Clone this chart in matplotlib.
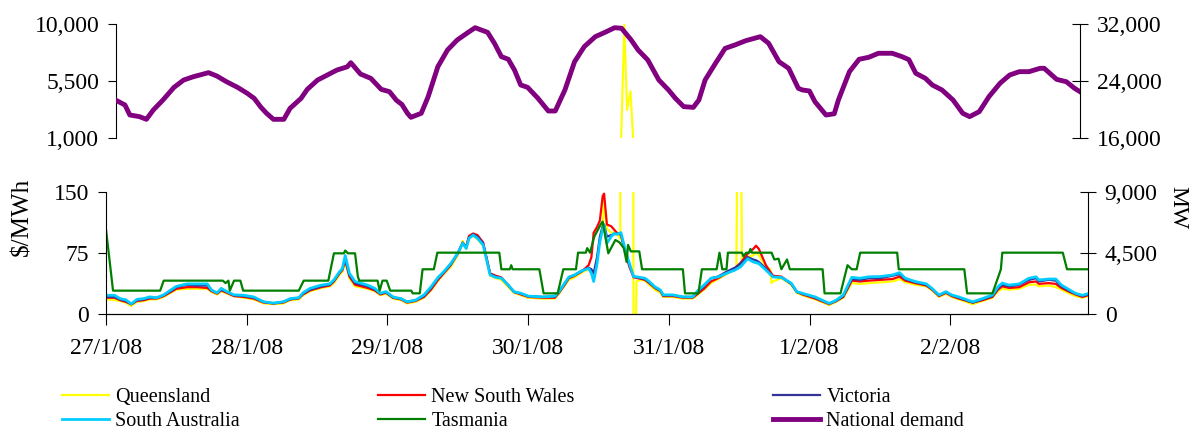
import matplotlib
matplotlib.use('Agg')
import matplotlib.pyplot as plt
from matplotlib.ticker import FuncFormatter

plt.rcParams['font.family'] = ['Liberation Serif', 'DejaVu Serif']

# days since 27/1/08 00:00 (half-hourly data, 336 intervals)
day_ticks = [0, 1, 2, 3, 4, 5, 6]
day_labels = ['27/1/08', '28/1/08', '29/1/08', '30/1/08', '31/1/08', '1/2/08', '2/2/08']
t_end = 335 / 48

# national demand (MW), right axis of the top panel
dem_t = [0.00, 0.065, 0.10, 0.17, 0.22, 0.27, 0.34, 0.42, 0.49, 0.56, 0.67, 0.73, 0.80, 0.88, 0.95,
         1.00, 1.05, 1.09, 1.14, 1.215, 1.26, 1.34, 1.385, 1.46, 1.53, 1.60, 1.675, 1.70, 1.77, 1.845,
         1.92, 1.98, 2.03, 2.07, 2.11, 2.135, 2.21, 2.26, 2.33, 2.40, 2.47, 2.55, 2.60, 2.69, 2.74,
         2.79, 2.84, 2.885, 2.93, 2.98, 3.055, 3.13, 3.18, 3.25, 3.32, 3.39, 3.47, 3.54, 3.61, 3.66,
         3.73, 3.78, 3.85, 3.93, 4.00, 4.05, 4.11, 4.18, 4.22, 4.265, 4.34, 4.41, 4.48, 4.56, 4.665,
         4.725, 4.80, 4.87, 4.94, 4.97, 5.02, 5.06, 5.14, 5.20, 5.23, 5.31, 5.38, 5.45, 5.52, 5.62,
         5.69, 5.74, 5.79, 5.86, 5.91, 5.98, 6.06, 6.13, 6.18, 6.25, 6.32, 6.40, 6.47, 6.54, 6.61,
         6.69, 6.72, 6.81, 6.88, 6.94, 6.979]
dem_v = [21300, 20630, 19230, 19000, 18620, 19930, 21335, 23110, 24140, 24600, 25170, 24700, 23900, 23110, 22270,
         21570, 20300, 19470, 18620, 18620, 20160, 21570, 22830, 24140, 24840, 25540, 26000, 26570, 24980, 24370,
         22830, 22500, 21300, 20700, 19470, 18900, 19470, 21800, 26000, 28350, 29750, 30830, 31480, 30830, 29290,
         27420, 27050, 25540, 23440, 23110, 21570, 19790, 19790, 22740, 26710, 28820, 30220, 30830, 31480, 31400,
         29750, 28350, 26950, 24140, 22740, 21570, 20400, 20300, 21335, 24140, 26480, 28580, 29050, 29660, 30220,
         29290, 26710, 25780, 22970, 22740, 22600, 21100, 19230, 19400, 21335, 25310, 27050, 27330, 27890, 27890,
         27420, 27000, 25090, 24370, 23440, 22740, 21335, 19470, 19000, 19700, 21800, 23680, 24840, 25310, 25310,
         25780, 25780, 24230, 23900, 22970, 22500]

# regional prices ($/MWh) for NSW, VIC, SA on a shared time grid
price_t = [0.00, 0.06, 0.10, 0.14, 0.18, 0.22, 0.27, 0.31, 0.36, 0.41, 0.46, 0.50, 0.575, 0.65, 0.72,
           0.75, 0.79, 0.82, 0.86, 0.91, 0.98, 1.05, 1.12, 1.19, 1.26, 1.31, 1.37, 1.40, 1.45, 1.53,
           1.59, 1.62, 1.66, 1.68, 1.70, 1.73, 1.77, 1.86, 1.91, 1.95, 1.99, 2.04, 2.095, 2.14, 2.20,
           2.26, 2.31, 2.36, 2.40, 2.45, 2.50, 2.535, 2.56, 2.58, 2.61, 2.64, 2.68, 2.70, 2.73, 2.77,
           2.81, 2.86, 2.90, 2.95, 3.00, 3.10, 3.19, 3.22, 3.26, 3.29, 3.33, 3.38, 3.43, 3.45, 3.466,
           3.49, 3.51, 3.53, 3.54, 3.56, 3.59, 3.61, 3.63, 3.66, 3.69, 3.72, 3.75, 3.78, 3.83, 3.86,
           3.90, 3.94, 3.96, 4.03, 4.10, 4.17, 4.20, 4.25, 4.30, 4.35, 4.41, 4.47, 4.51, 4.56, 4.60,
           4.62, 4.64, 4.69, 4.74, 4.80, 4.87, 4.91, 4.95, 5.04, 5.14, 5.19, 5.24, 5.28, 5.30, 5.36,
           5.42, 5.50, 5.59, 5.64, 5.68, 5.75, 5.83, 5.87, 5.92, 5.97, 6.01, 6.06, 6.16, 6.23, 6.30,
           6.34, 6.37, 6.42, 6.49, 6.56, 6.61, 6.63, 6.70, 6.75, 6.79, 6.85, 6.89, 6.94, 6.979]
sa_p = [23, 23, 19, 17.5, 12.5, 18, 19, 21, 20, 23.5, 29.5, 34, 37, 37, 37,
        29.5, 26, 31.5, 27.5, 23.5, 23, 21, 15, 13.5, 15, 19, 20, 26, 31.5, 35.5,
        37, 42, 52, 56, 72, 50, 40, 35.5, 31.5, 25.5, 27.5, 21, 19, 15, 17,
        23.5, 33.5, 45, 52, 62, 74.5, 87, 80.5, 93, 97, 93, 85, 70, 48, 45,
        44, 35.5, 27.5, 25.5, 22, 21, 22, 27.5, 38, 45.5, 48, 53, 56, 50, 40,
        62, 89, 105, 109, 87, 95, 99, 98, 100, 79, 62, 46, 45.5, 44, 40,
        33.5, 29.5, 23.5, 23.5, 21, 21, 27.5, 35.5, 44, 45.5, 50, 54, 58, 68, 64,
        63, 62, 54, 45.5, 45, 38, 27.5, 25.4, 21, 13, 17, 23.4, 38, 45, 44,
        45.7, 46, 48, 50.8, 44, 40, 37, 31.5, 23.4, 27.5, 23.4, 21, 15, 19, 23.4,
        33.6, 38, 35.6, 37, 44, 45.7, 41.8, 43, 43, 35.6, 29.5, 25.4, 23, 25]
vic_p = [21, 21, 18, 16, 12, 17, 18, 20, 20, 23, 28, 33, 36, 35, 35,
         29, 26, 30, 27, 23, 22, 20, 15, 13, 15, 18, 20, 25, 30, 34,
         36, 41, 51, 55, 68, 48, 38, 34, 30, 25, 27, 20, 19, 15, 17,
         22, 32, 44, 51, 61, 75, 88, 82, 94, 98, 95, 87, 72, 49, 46,
         44, 35, 27, 25, 22, 21, 21, 27, 37, 45, 48, 53, 57, 55, 50,
         70, 95, 108, 110, 95, 97, 98, 99, 98, 77, 60, 46, 45, 43, 39,
         33, 29, 23, 23, 21, 21, 26, 34, 44, 46, 52, 57, 62, 70, 67,
         66, 64, 56, 46, 45, 37, 27, 25, 20, 13, 16, 22, 36, 43, 42,
         44, 44, 47, 49, 43, 39, 36, 31, 23, 27, 23, 20, 14, 18, 22,
         32, 36, 34, 36, 42, 44, 40, 42, 41, 34, 28, 25, 22, 24]
nsw_p = [20, 20, 17, 15, 12, 16, 17, 19, 19, 22, 27, 31, 33, 33, 32,
         28, 25, 29, 26, 22, 21, 19, 14, 13, 14, 18, 19, 24, 29, 33,
         35, 40, 50, 54, 66, 46, 36, 32, 29, 24, 26, 20, 18, 14, 16,
         21, 30, 42, 50, 60, 74, 87, 83, 96, 99, 97, 88, 73, 50, 47,
         45, 35, 27, 24, 21, 20, 20, 26, 36, 44, 47, 52, 60, 70, 100,
         107, 115, 145, 148, 110, 108, 104, 100, 97, 76, 58, 45, 44, 42, 38,
         32, 28, 22, 22, 20, 20, 24, 31, 40, 44, 50, 56, 63, 74, 80,
         84, 80, 60, 47, 46, 37, 27, 24, 19, 12, 16, 21, 34, 41, 40,
         41, 42, 43, 46, 41, 38, 35, 30, 22, 26, 22, 19, 14, 17, 21,
         30, 34, 32, 33, 39, 40, 37, 38, 37, 32, 27, 24, 21, 23]

# Queensland has its own grid because of the spikes on 30/1 and 31/1
qld_t = [0.00, 0.06, 0.10, 0.14, 0.18, 0.22, 0.27, 0.31, 0.36, 0.41, 0.46, 0.50, 0.575, 0.65, 0.72,
         0.75, 0.79, 0.82, 0.86, 0.91, 0.98, 1.05, 1.12, 1.19, 1.26, 1.31, 1.37, 1.40, 1.45, 1.53,
         1.59, 1.62, 1.66, 1.68, 1.70, 1.73, 1.77, 1.86, 1.91, 1.95, 1.99, 2.04, 2.095, 2.14, 2.20,
         2.26, 2.31, 2.36, 2.40, 2.45, 2.50, 2.535, 2.56, 2.58, 2.61, 2.64, 2.68, 2.70, 2.73, 2.77,
         2.81, 2.86, 2.90, 2.95, 3.00, 3.10, 3.19, 3.22, 3.26, 3.29, 3.33, 3.38, 3.43, 3.45, 3.466,
         3.49, 3.51, 3.53, 3.54, 3.56, 3.59, 3.61, 3.63, 3.645, 3.655, 3.68, 3.70, 3.725, 3.75, 3.77,
         3.80, 3.83, 3.86, 3.90, 3.94, 3.96, 4.03, 4.10, 4.17, 4.20, 4.25, 4.30, 4.35, 4.41, 4.465,
         4.48, 4.50, 4.52, 4.56, 4.60, 4.62, 4.64, 4.69, 4.72, 4.73, 4.74, 4.80, 4.87, 4.91, 4.95,
         5.04, 5.14, 5.19, 5.24, 5.28, 5.30, 5.36, 5.42, 5.50, 5.59, 5.64, 5.68, 5.75, 5.83, 5.87,
         5.92, 5.97, 6.01, 6.06, 6.16, 6.23, 6.30, 6.34, 6.37, 6.42, 6.49, 6.56, 6.61, 6.63, 6.70,
         6.75, 6.79, 6.85, 6.89, 6.94, 6.979]
qld_p = [18, 17, 16, 14, 10, 15, 16, 18, 18, 21, 26, 30, 31, 31, 31,
         27, 24, 28, 25, 22, 20, 18, 13, 12, 13, 17, 18, 23, 28, 32,
         34, 38, 48, 52, 64, 44, 34, 31, 28, 23, 25, 19, 17, 13, 15,
         20, 29, 41, 49, 58, 72, 90, 80, 94, 96, 92, 84, 70, 47, 44,
         42, 33, 26, 23, 20, 19, 19, 25, 35, 42, 45, 51, 55, 52, 45,
         68, 92, 110, 140, 105, 100, 100, 98, 95, 92, 10000, 3200, 4700, -250, 40,
         42, 41, 36, 30, 26, 21, 21, 19, 19, 23, 30, 38, 43, 49, 54,
         56, 500, 60, 70, 72, 76, 72, 58, 55, 38, 40, 44, 36, 26, 23,
         18, 11, 15, 20, 32, 38, 37, 38, 39, 40, 43, 39, 36, 34, 29,
         21, 25, 21, 18, 12, 16, 20, 28, 31, 30, 31, 36, 36, 34, 35,
         33, 30, 25, 22, 20, 22]

# Tasmania (step-like price)
tas_t = [0.00, 0.05, 0.385, 0.41, 0.83, 0.85, 0.87, 0.88, 0.91, 0.955, 0.975, 1.37, 1.405, 1.58, 1.62,
         1.69, 1.70, 1.72, 1.77, 1.79, 1.80, 1.93, 1.945, 1.965, 1.995, 2.02, 2.17, 2.18, 2.23, 2.25,
         2.33, 2.355, 2.795, 2.81, 2.87, 2.88, 2.89, 3.08, 3.11, 3.21, 3.25, 3.34, 3.355, 3.41, 3.42,
         3.44, 3.47, 3.52, 3.53, 3.57, 3.62, 3.65, 3.68, 3.70, 3.71, 3.73, 3.79, 3.81, 4.10, 4.115,
         4.21, 4.235, 4.34, 4.36, 4.38, 4.41, 4.42, 4.52, 4.53, 4.55, 4.57, 4.58, 4.59, 4.73, 4.75,
         4.78, 4.80, 4.84, 4.86, 5.093, 5.107, 5.22, 5.27, 5.30, 5.335, 5.36, 5.623, 5.634, 6.10, 6.12,
         6.30, 6.34, 6.36, 6.37, 6.80, 6.83, 6.979]
tas_p = [104, 28.7, 28.7, 41, 41, 38, 41, 28.7, 41, 41, 28.7, 28.7, 41, 41, 74.6,
         74.6, 78, 74.6, 74.6, 46, 41, 41, 28.7, 41, 41, 28.7, 28.7, 25.4, 25.4, 55,
         55, 75.4, 75.4, 55, 55, 60, 55, 55, 25.4, 25.4, 55, 55, 75.4, 75.4, 81,
         75.4, 95, 111.5, 113.6, 74.6, 91, 88, 81, 64, 85, 77, 77, 55, 55, 25.4,
         25.4, 55, 55, 75.4, 55, 55, 75.4, 75.4, 71, 75.4, 75.4, 80, 75.4, 75.4, 67,
         68, 55, 67, 55, 55, 25.4, 25.4, 60, 55, 55, 75.4, 75.4, 55, 55, 25.4,
         25.4, 45, 55, 75.4, 75.4, 55, 55]

c_qld = '#FFFF00'
c_nsw = '#FF0000'
c_vic = '#333399'
c_sa = '#00CCFF'
c_tas = '#008000'
c_dem = '#800080'

comma = FuncFormatter(lambda v, p: f'{v:,.0f}')

fig = plt.figure(figsize=(11.93, 4.32), dpi=100)

# top panel: high prices and demand
ax1 = fig.add_axes([116 / 1193, 1 - 138 / 432, 964 / 1193, 114 / 432])
ax1.plot(qld_t, qld_p, color=c_qld, lw=1.5)
ax1.set_xlim(0, t_end)
ax1.set_ylim(1000, 10000)
ax1.set_yticks([1000, 5500, 10000])
ax1.yaxis.set_major_formatter(comma)
ax1.set_xticks([])
for s in ['top', 'bottom', 'right']:
    ax1.spines[s].set_visible(False)
ax1.tick_params(axis='y', direction='out', length=6, labelsize=17, pad=6)

ax1r = ax1.twinx()
ax1r.plot(dem_t, dem_v, color=c_dem, lw=3.5)
ax1r.set_xlim(0, t_end)
ax1r.set_ylim(16000, 32000)
ax1r.set_yticks([16000, 24000, 32000])
ax1r.yaxis.set_major_formatter(comma)
for s in ['top', 'bottom', 'left']:
    ax1r.spines[s].set_visible(False)
ax1r.tick_params(axis='y', direction='inout', length=12, labelsize=17, pad=6)

# bottom panel: normal prices
ax2 = fig.add_axes([106 / 1193, 1 - 314 / 432, 982 / 1193, 122 / 432])
l_qld, = ax2.plot(qld_t, qld_p, color=c_qld, lw=1.6, label='Queensland')
l_nsw, = ax2.plot(price_t, nsw_p, color=c_nsw, lw=1.6, label='New South Wales')
l_vic, = ax2.plot(price_t, vic_p, color=c_vic, lw=1.6, label='Victoria')
l_sa, = ax2.plot(price_t, sa_p, color=c_sa, lw=2.0, label='South Australia')
l_tas, = ax2.plot(tas_t, tas_p, color=c_tas, lw=1.6, label='Tasmania')
ax2.set_xlim(0, t_end)
ax2.set_ylim(0, 150)
ax2.set_yticks([0, 75, 150])
ax2.set_xticks(day_ticks)
ax2.set_xticklabels(day_labels)
ax2.spines['top'].set_visible(False)
ax2.spines['right'].set_visible(False)
ax2.tick_params(axis='y', direction='out', length=6, labelsize=17, pad=6)
ax2.tick_params(axis='x', direction='out', length=8, labelsize=17, pad=9)

ax2r = ax2.twinx()
ax2r.set_ylim(0, 9000)
ax2r.set_yticks([0, 4500, 9000])
ax2r.yaxis.set_major_formatter(comma)
ax2r.spines['top'].set_visible(False)
ax2r.spines['left'].set_visible(False)
ax2r.tick_params(axis='y', direction='inout', length=12, labelsize=17, pad=6)

fig.text(22 / 1193, 1 - 217 / 432, '$/MWh', rotation=90, fontsize=18, ha='center', va='center')
fig.text(1178 / 1193, 1 - 208 / 432, 'MW', rotation=270, fontsize=17, ha='center', va='center')

# legend: three columns placed like the original
l_dem, = ax2.plot([], [], color=c_dem, lw=3.5, label='National demand')
cols = [([l_qld, l_sa], 62), ([l_nsw, l_tas], 378), ([l_vic, l_dem], 773)]
for handles, x0 in cols:
    leg = fig.legend(handles=handles, loc='upper left', bbox_to_anchor=(x0 / 1193, 1 - 388 / 432),
                     frameon=False, fontsize=14.5, handlelength=2.35, handletextpad=0.3,
                     labelspacing=0.25, borderpad=0, borderaxespad=0)

fig.savefig('out.png', dpi=100)
